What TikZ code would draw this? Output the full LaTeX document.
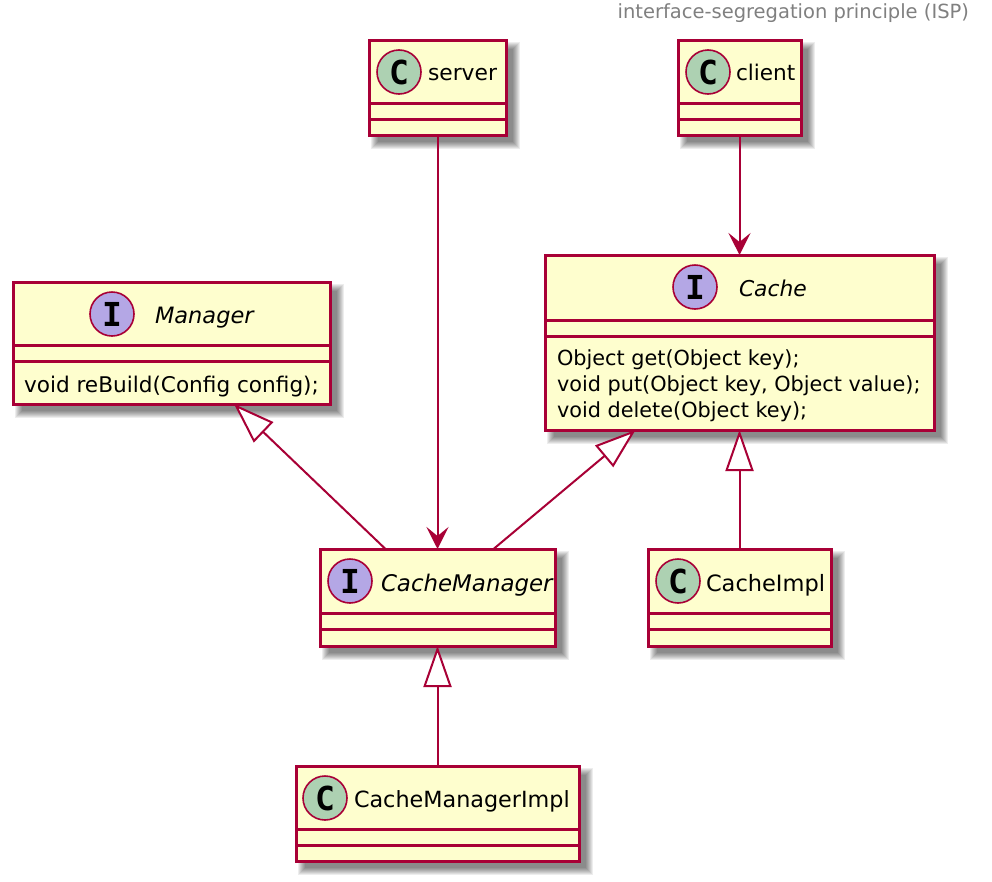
\documentclass[tikz,border=0pt]{standalone}
\usepackage{fontspec}
\setmainfont{DejaVu Sans}
\newfontfamily\glyphfont{DejaVu Sans Mono}
\usetikzlibrary{arrows.meta,calc}
\definecolor{umlred}{HTML}{A80036}
\definecolor{umlfill}{HTML}{FEFECE}
\definecolor{classdot}{HTML}{ADD1B2}
\definecolor{ifacedot}{HTML}{B4A7E5}
\newcommand{\sz}[1]{\fontsize{#1}{24}\selectfont}
\tikzset{
  x=1pt,y=-1pt,
  classbox/.style={draw=umlred,fill=umlfill,line width=3pt,rectangle,inner sep=0pt,outer sep=0pt},
  spot/.style={circle,draw=umlred,line width=1.6pt,minimum size=44pt,inner sep=0pt,outer sep=0pt,text=black,font=\glyphfont\bfseries\fontsize{33}{33}\selectfont},
  nametext/.style={anchor=base west,inner sep=0pt,outer sep=0pt,text=black},
  memberline/.style={anchor=base west,inner sep=0pt,outer sep=0pt,text=black},
  titletext/.style={anchor=base east,inner sep=0pt,outer sep=0pt,text=black!50,font=\fontsize{19.5}{22}\selectfont},
  link/.style={draw=umlred,line width=2pt},
  uses/.style={link,-{Stealth[length=22pt,width=22pt,inset=9pt,fill=umlred]}},
  extends/.style={link,-{Triangle[open,length=41pt,width=28pt,line width=2pt,fill=white]}},
}
% #1 name, #2 x1, #3 y1, #4 x2, #5 y2, #6 first divider, #7 second divider
\newcommand{\umlbox}[7]{%
  \foreach \d in {0,1,...,7}{
    \fill[black,opacity=0.07] (#2+2+\d,#3+2+\d) rectangle (#4+14-\d,#5+14-\d);
  }
  \node[classbox,minimum width=#4-#2,minimum height=#5-#3] (#1) at ({(#2+#4)/2},{(#3+#5)/2}) {};
  \draw[umlred,line width=3pt] (#2,#6) -- (#4,#6);
  \draw[umlred,line width=3pt] (#2,#7) -- (#4,#7);
}
\begin{document}
\begin{tikzpicture}
\useasboundingbox (0,0) rectangle (992,881);
\fill[white] (0,0) rectangle (992,881);
\node[titletext] (title) at (969,18) {interface-segregation principle (ISP)};

\umlbox{server}{369}{40}{506}{135}{103}{119}
\umlbox{client}{678}{40}{801}{135}{103}{119}
\umlbox{manager}{13}{282}{330}{404}{345}{361}
\umlbox{cache}{545}{255}{934}{430}{320}{336}
\umlbox{cachemanager}{320}{549}{555}{646}{613}{629}
\umlbox{cacheimpl}{648}{549}{831}{646}{613}{629}
\umlbox{cachemanagerimpl}{296}{766}{579}{861}{829}{845}

\node[spot,fill=classdot] (serverspot) at (399,72) {C};
\node[nametext,font=\sz{21.8}] (servername) at (428,80) {server};
\node[spot,fill=classdot] (clientspot) at (708,72) {C};
\node[nametext,font=\sz{21.6}] (clientname) at (736,80) {client};
\node[spot,fill=ifacedot] (managerspot) at (112,314) {I};
\node[nametext,font=\itshape\sz{22.5}] (managername) at (155,323) {Manager};
\node[memberline,font=\sz{21.6}] (managerm) at (24,392) {void reBuild(Config config);};
\node[spot,fill=ifacedot] (cachespot) at (695,287) {I};
\node[nametext,font=\itshape\sz{21.8}] (cachename) at (739,296) {Cache};
\node[memberline,font=\sz{20.8}] (cachem1) at (557,365) {Object get(Object key);};
\node[memberline,font=\sz{20.8}] (cachem2) at (557,391) {void put(Object key, Object value);};
\node[memberline,font=\sz{20.8}] (cachem3) at (557,417) {void delete(Object key);};
\node[spot,fill=ifacedot] (cmspot) at (350,581) {I};
\node[nametext,font=\itshape\sz{22.9}] (cmname) at (381,591) {CacheManager};
\node[spot,fill=classdot] (cispot) at (678,581) {C};
\node[nametext,font=\sz{22.5}] (ciname) at (706,591) {CacheImpl};
\node[spot,fill=classdot] (cmispot) at (325,798) {C};
\node[nametext,font=\sz{22.3}] (cminame) at (354,807) {CacheManagerImpl};

\draw[uses] (server.south) -- (cachemanager.north);
\draw[uses] (client.south) -- (cache.north);
\draw[extends] ($(cachemanager.north)+(-52,0)$) -- ($(manager.south)+(62.5,0)$);
\draw[extends] ($(cachemanager.north)+(56,0)$) -- ($(cache.south)+(-104,0)$);
\draw[extends] (cacheimpl.north) -- (cache.south);
\draw[extends] (cachemanagerimpl.north) -- (cachemanager.south);
\end{tikzpicture}
\end{document}
